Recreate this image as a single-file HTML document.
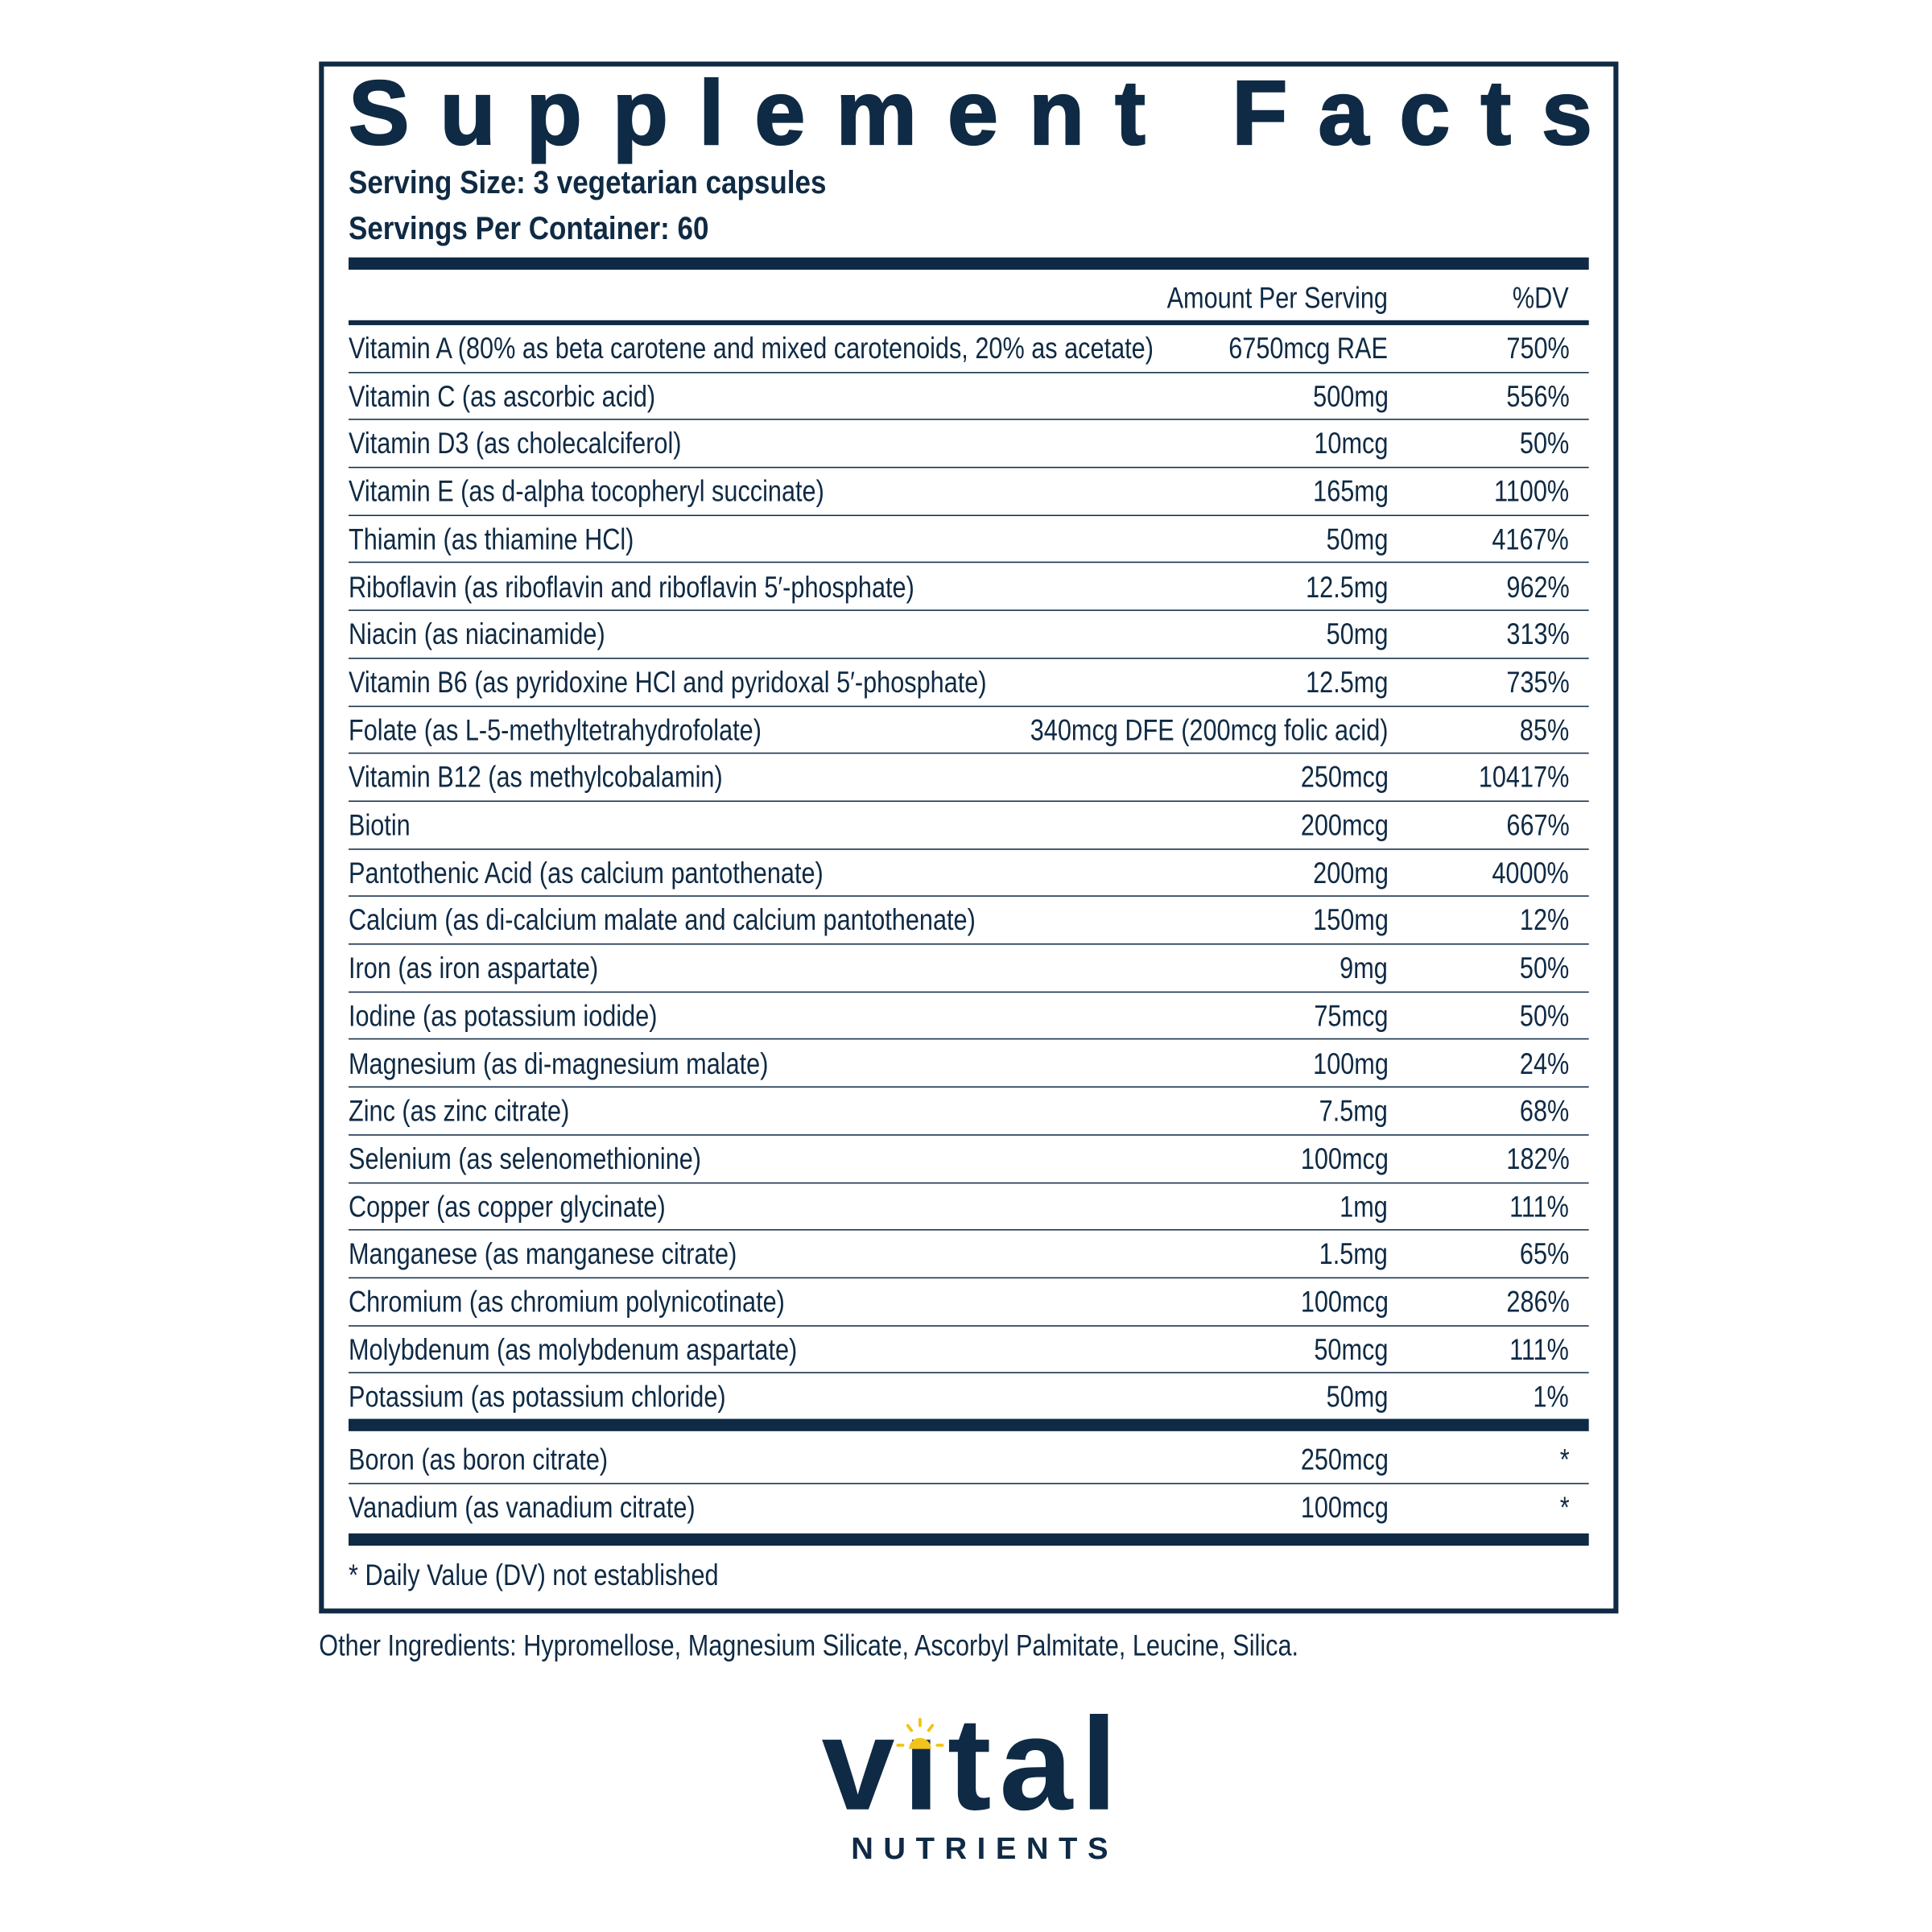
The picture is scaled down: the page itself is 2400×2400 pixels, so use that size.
<!DOCTYPE html>
<html><head><meta charset="utf-8">
<style>
html,body{margin:0;padding:0;background:#fff;}
body{width:2400px;height:2400px;overflow:hidden;position:relative;}
#w{position:absolute;left:0;top:0;width:1560px;height:1560px;transform:scale(1.530);transform-origin:0 0;color:#0f2a44;font-family:"Liberation Sans Narrow","Liberation Sans",sans-serif;}
.box{position:absolute;left:259px;top:50px;width:1047px;height:1252px;border:4px solid #0f2a44;}
.t{position:absolute;left:283px;top:50px;width:1010px;font-family:"Liberation Sans",sans-serif;font-weight:bold;font-size:74px;line-height:84px;display:flex;justify-content:space-between;-webkit-text-stroke:1.5px #0f2a44;}
.ss{position:absolute;left:283px;font-weight:bold;font-size:26px;line-height:30px;transform:scaleX(0.88);transform-origin:0 50%;white-space:nowrap;}
.bar{position:absolute;left:283px;width:1007px;background:#0f2a44;}
.row{position:absolute;left:283px;width:1007px;height:38.7px;font-size:24px;line-height:40px;white-space:nowrap;}
.row .n{position:absolute;left:0;transform:scaleX(0.835);transform-origin:0 50%;}
.row .a{position:absolute;right:163px;transform:scaleX(0.835);transform-origin:100% 50%;}
.row .d{position:absolute;right:16px;transform:scaleX(0.835);transform-origin:100% 50%;}
.row.l{border-bottom:1.5px solid #0f2a44;box-sizing:border-box;}
</style></head><body><div id="w">
<div class="box"></div>
<div class="t"><span>S</span><span>u</span><span>p</span><span>p</span><span>l</span><span>e</span><span>m</span><span>e</span><span>n</span><span>t</span><span>&nbsp;</span><span>F</span><span>a</span><span>c</span><span>t</span><span>s</span></div>
<div class="ss" style="top:133px">Serving Size: 3 vegetarian capsules</div>
<div class="ss" style="top:170px">Servings Per Container: 60</div>
<div class="bar" style="top:209px;height:10px"></div>
<div class="row" style="top:223px"><span class="a">Amount Per Serving</span><span class="d">%DV</span></div>
<div class="bar" style="top:260px;height:4px"></div>
<div id="rows"></div>
<div class="bar" style="top:1152px;height:10px"></div>
<div class="row l" style="top:1166px"><span class="n">Boron (as boron citrate)</span><span class="a">250mcg</span><span class="d">*</span></div>
<div class="row" style="top:1205px"><span class="n">Vanadium (as vanadium citrate)</span><span class="a">100mcg</span><span class="d">*</span></div>
<div class="bar" style="top:1245px;height:10px"></div>
<div class="row" style="top:1260px"><span class="n">* Daily Value (DV) not established</span></div>
<div class="row" style="top:1317px;left:259px"><span class="n">Other Ingredients: Hypromellose, Magnesium Silicate, Ascorbyl Palmitate, Leucine, Silica.</span></div>
<div style="position:absolute;left:667px;top:1372px;font-family:'Liberation Sans',sans-serif;font-weight:bold;font-size:107px;line-height:120px;letter-spacing:6.5px;">vıtal</div>
<svg style="position:absolute;left:723px;top:1393px" width="48" height="30" viewBox="0 0 48 30">
<path d="M15 27 A9 9 0 0 1 33 27 Z" fill="#f2c318"/>
<g stroke="#f2c318" stroke-width="2.5" stroke-linecap="round"><line x1="24" y1="3" x2="24" y2="8"/><line x1="14" y1="8" x2="17" y2="12"/><line x1="34" y1="8" x2="31" y2="12"/><line x1="6" y1="24" x2="10" y2="24"/><line x1="38" y1="24" x2="42" y2="24"/></g></svg>
<div style="position:absolute;left:691px;top:1488px;font-family:'Liberation Sans',sans-serif;font-weight:bold;font-size:25px;line-height:26px;letter-spacing:8.2px;">NUTRIENTS</div>
<script>
var d=[["Vitamin A (80% as beta carotene and mixed carotenoids, 20% as acetate)","6750mcg RAE","750%"],["Vitamin C (as ascorbic acid)","500mg","556%"],["Vitamin D3 (as cholecalciferol)","10mcg","50%"],["Vitamin E (as d-alpha tocopheryl succinate)","165mg","1100%"],["Thiamin (as thiamine HCl)","50mg","4167%"],["Riboflavin (as riboflavin and riboflavin 5′-phosphate)","12.5mg","962%"],["Niacin (as niacinamide)","50mg","313%"],["Vitamin B6 (as pyridoxine HCl and pyridoxal 5′-phosphate)","12.5mg","735%"],["Folate (as L-5-methyltetrahydrofolate)","340mcg DFE (200mcg folic acid)","85%"],["Vitamin B12 (as methylcobalamin)","250mcg","10417%"],["Biotin","200mcg","667%"],["Pantothenic Acid (as calcium pantothenate)","200mg","4000%"],["Calcium (as di-calcium malate and calcium pantothenate)","150mg","12%"],["Iron (as iron aspartate)","9mg","50%"],["Iodine (as potassium iodide)","75mcg","50%"],["Magnesium (as di-magnesium malate)","100mg","24%"],["Zinc (as zinc citrate)","7.5mg","68%"],["Selenium (as selenomethionine)","100mcg","182%"],["Copper (as copper glycinate)","1mg","111%"],["Manganese (as manganese citrate)","1.5mg","65%"],["Chromium (as chromium polynicotinate)","100mcg","286%"],["Molybdenum (as molybdenum aspartate)","50mcg","111%"],["Potassium (as potassium chloride)","50mg","1%"]];
var h="";for(var i=0;i<d.length;i++){h+='<div class="row'+(i<d.length-1?' l':'')+'" style="top:'+(264+i*38.7)+'px"><span class="n">'+d[i][0]+'</span><span class="a">'+d[i][1]+'</span><span class="d">'+d[i][2]+'</span></div>';}
document.getElementById("rows").innerHTML=h;
</script>
</div></body></html>
